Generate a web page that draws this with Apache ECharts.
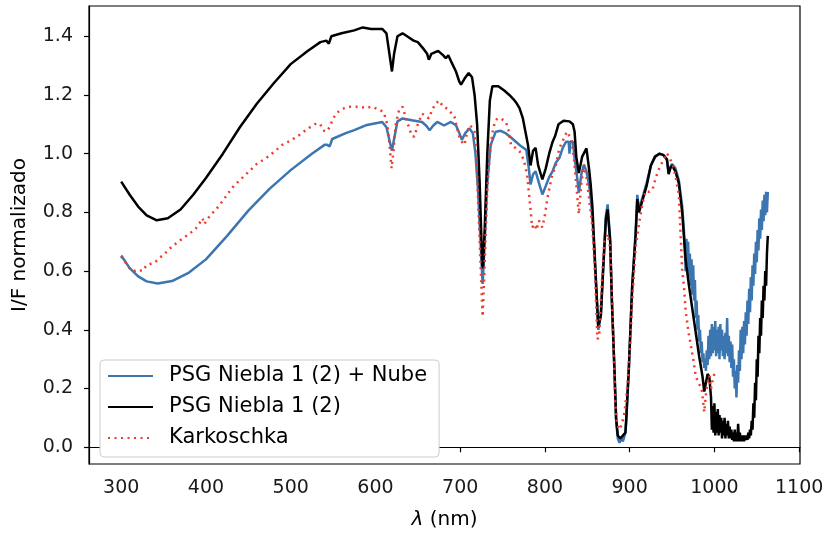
<!DOCTYPE html>
<html>
<head>
<meta charset="utf-8">
<script src="https://cdn.jsdelivr.net/npm/echarts@6/dist/echarts.min.js"></script>
<style>
  html, body { margin: 0; padding: 0; background: #fff; }
  #chart { width: 828px; height: 535px; }
</style>
</head>
<body>
<div id="chart"></div>
<script>
// tick labels
var xTicks = [300, 400, 500, 600, 700, 800, 900, 1000, 1100];
var yTicks = [0, 0.2, 0.4, 0.6, 0.8, 1.0, 1.2, 1.4];

var names = ["PSG Niebla 1 (2) + Nube", "PSG Niebla 1 (2)", "Karkoschka"];

// PSG Niebla 1 (2) + Nube  [nm, I/F]
var nubePts = [
  [300,0.653],[310,0.61],[320,0.582],[330,0.565],[343,0.558],[360,0.566],[380,0.595],[400,0.64],
  [425,0.72],[450,0.806],[475,0.88],[500,0.944],[525,1.0],[540,1.03],[543,1.03],[546,1.025],
  [549,1.05],[565,1.07],[575,1.08],[590,1.098],[608,1.108],[613,1.09],[617,1.04],[619.5,1.01],
  [622,1.05],[626,1.11],[632,1.12],[643,1.114],[655,1.108],[660,1.095],[664,1.08],[668,1.095],
  [673,1.108],[681,1.096],[689,1.108],[695,1.097],[699,1.07],[702,1.047],[706,1.07],[711,1.086],
  [715,1.069],[718,1.0],[721,0.88],[724,0.7],[726.5,0.556],[729,0.7],[732,0.9],[736,1.03],
  [742,1.075],[748,1.078],[754,1.069],[760,1.055],[766,1.04],[772,1.025],[778,1.013],[781,0.95],
  [783,0.895],[786,0.93],[789,0.94],[793,0.9],[797,0.861],[801,0.89],[805,0.92],[809,0.94],
  [813,0.97],[817,0.985],[821,1.02],[825,1.041],[828,1.041],[829,1.0],[830,1.041],[833,1.041],
  [835,0.985],[838,0.92],[840,0.867],[843,0.93],[846,0.962],[849,0.94],[852,0.895],[854,0.85],
  [856,0.78],[858,0.68],[860,0.57],[863,0.40],[866,0.45],[869,0.63],[872,0.79],[874,0.827],
  [877,0.71],[879,0.5],[882,0.26],[884,0.09],[886,0.03],[888,0.015],[890,0.03],[892,0.02],
  [895,0.05],[896,0.09],[899,0.26],[903,0.55],[907,0.73],[909,0.86],[911,0.81],[913,0.81],
  [916,0.86],[920,0.9],[925,0.96],[930,0.99],[935,1.0],[940,0.995],[944,0.98],[946,0.935],
  [948,0.955],[950,0.965],[954,0.95],[958,0.91],[962,0.82],[964,0.74],
  [965,0.68],[966,0.60],[967,0.71],[968,0.62],[969,0.70],[970,0.58],[971,0.66],[972,0.55],
  [973,0.64],[974,0.52],[975,0.62],[976,0.50],[977,0.57],[978,0.44],[979,0.50],[980,0.40],
  [981,0.45],[982,0.36],[983,0.40],[984,0.32],[985,0.36],[986,0.29],[987,0.32],[988,0.27],
  [989,0.30],[990,0.26],[991,0.33],[992,0.28],[993,0.38],[994,0.30],[995,0.40],[996,0.31],
  [997,0.42],[998,0.32],[999,0.41],[1000,0.33],[1001,0.43],[1002,0.31],[1003,0.40],[1004,0.32],
  [1005,0.41],[1006,0.30],[1007,0.42],[1008,0.33],[1009,0.40],[1010,0.31],[1011,0.38],[1012,0.30],
  [1013,0.39],[1014,0.32],[1015,0.44],[1016,0.31],[1017,0.38],[1018,0.29],[1019,0.36],[1020,0.27],
  [1021,0.35],[1022,0.24],[1023,0.30],[1024,0.20],[1025,0.26],[1026,0.17],[1027,0.28],[1028,0.22],
  [1029,0.33],[1030,0.26],[1031,0.40],[1032,0.30],[1033,0.41],[1034,0.32],[1035,0.43],[1036,0.35],
  [1037,0.46],[1038,0.38],[1039,0.50],[1040,0.42],[1041,0.54],[1042,0.46],[1043,0.58],[1044,0.50],
  [1045,0.62],[1046,0.55],[1047,0.66],[1048,0.59],[1049,0.70],[1050,0.63],[1051,0.74],[1052,0.67],
  [1053,0.78],[1054,0.71],[1055,0.81],[1056,0.74],[1057,0.84],[1058,0.77],[1059,0.86],[1060,0.79],
  [1061,0.87],[1062,0.80],[1063,0.87]
];

// PSG Niebla 1 (2)  [nm, I/F]
var nieblaPts = [
  [300,0.905],[310,0.86],[320,0.82],[330,0.79],[342,0.773],[355,0.78],[370,0.81],[385,0.86],
  [400,0.917],[420,1.0],[440,1.09],[460,1.17],[480,1.24],[500,1.305],[520,1.35],[535,1.38],
  [542,1.385],[545,1.375],[548,1.40],[560,1.41],[575,1.42],[585,1.43],[595,1.425],[608,1.425],
  [613,1.41],[617,1.33],[619.5,1.28],[622,1.34],[626,1.40],[632,1.41],[640,1.395],[645,1.385],
  [650,1.38],[657,1.356],[661,1.34],[663,1.32],[666,1.34],[674,1.35],[680,1.335],[683,1.325],
  [686,1.335],[690,1.31],[695,1.28],[699,1.245],[701,1.235],[705,1.255],[710,1.275],[714,1.26],
  [717,1.2],[720,1.1],[723,0.9],[726,0.62],[727,0.61],[729,0.75],[732,1.0],[735,1.18],
  [738,1.23],[745,1.23],[752,1.215],[758,1.2],[763,1.185],[767,1.17],[770,1.155],[774,1.12],
  [777,1.075],[780,1.03],[783,0.96],[786,1.01],[789,1.02],[792,0.96],[797,0.912],[801,0.95],
  [805,1.0],[809,1.04],[812,1.06],[816,1.1],[822,1.112],[829,1.11],[833,1.1],[835,1.075],
  [837,0.99],[840,0.934],[844,0.99],[849,1.018],[852,0.95],[854,0.895],[856,0.82],[858,0.70],
  [860,0.58],[863,0.41],[866,0.45],[869,0.62],[872,0.78],[874,0.81],[877,0.70],[879,0.5],
  [882,0.27],[884,0.1],[886,0.04],[889,0.03],[892,0.04],[895,0.05],[896,0.1],[899,0.27],
  [903,0.55],[907,0.72],[909,0.845],[911,0.8],[913,0.8],[916,0.85],[920,0.89],[925,0.96],
  [930,0.99],[935,1.0],[940,0.995],[944,0.98],[946,0.93],[948,0.95],[950,0.96],[954,0.94],
  [958,0.9],[962,0.8],[964,0.72],[966,0.64],[970,0.55],[974,0.47],[978,0.39],[982,0.31],
  [986,0.24],[988,0.19],[990,0.22],[992,0.25],[994,0.24],[996,0.17],
  [997,0.06],[998,0.14],[999,0.05],[1000,0.15],[1001,0.04],[1002,0.12],[1003,0.05],[1004,0.13],
  [1005,0.04],[1006,0.11],[1007,0.05],[1008,0.10],[1009,0.03],[1010,0.09],[1011,0.04],[1012,0.10],
  [1013,0.03],[1014,0.08],[1015,0.04],[1016,0.09],[1017,0.03],[1018,0.07],[1019,0.03],[1020,0.06],
  [1021,0.025],[1022,0.05],[1023,0.02],[1024,0.06],[1025,0.02],[1026,0.05],[1027,0.02],[1028,0.08],
  [1029,0.02],[1030,0.05],[1031,0.02],[1032,0.04],[1033,0.02],[1034,0.04],[1035,0.02],[1036,0.04],
  [1037,0.025],[1038,0.04],[1039,0.025],[1040,0.05],[1041,0.03],[1042,0.06],[1043,0.04],[1044,0.09],
  [1045,0.06],[1046,0.15],[1047,0.10],[1048,0.22],[1049,0.16],[1050,0.30],[1051,0.24],[1052,0.38],
  [1053,0.32],[1054,0.44],[1055,0.38],[1056,0.50],[1057,0.44],[1058,0.55],[1059,0.50],[1060,0.60],
  [1061,0.55],[1062,0.66],[1063,0.72]
];

// Karkoschka  [nm, I/F]
var karkPts = [
  [300,0.65],[305,0.63],[310,0.61],[315,0.60],[320,0.605],[325,0.60],[330,0.62],[335,0.625],
  [340,0.63],[345,0.645],[350,0.655],[357,0.676],[365,0.695],[372,0.71],[380,0.726],[388,0.745],
  [394,0.77],[396,0.78],[398,0.76],[405,0.79],[412,0.81],[420,0.84],[431,0.884],[440,0.91],
  [451,0.94],[460,0.965],[471,0.985],[480,1.005],[490,1.03],[500,1.045],[510,1.063],[520,1.085],
  [530,1.103],[535,1.10],[538,1.08],[542,1.075],[546,1.09],[550,1.12],[555,1.14],[561,1.153],
  [570,1.16],[581,1.16],[590,1.155],[595,1.16],[600,1.155],[605,1.15],[610,1.14],[614,1.10],
  [617,1.02],[619,0.95],[621,1.0],[624,1.1],[628,1.15],[632,1.16],[636,1.12],[640,1.086],
  [643,1.06],[646,1.058],[650,1.1],[655,1.136],[659,1.13],[663,1.12],[667,1.15],[671,1.17],
  [675,1.181],[680,1.16],[685,1.153],[689,1.14],[693,1.131],[696,1.09],[699,1.058],[702,1.04],
  [705,1.03],[708,1.07],[711,1.097],[714,1.09],[717,1.075],[719,1.0],[721,0.85],[723,0.7],
  [725,0.55],[726.5,0.445],[728,0.55],[730,0.72],[732,0.88],[735,1.0],[738,1.07],[741,1.11],
  [744,1.12],[748,1.12],[754,1.108],[757,1.08],[760,1.03],[765,1.02],[770,1.008],[775,0.98],
  [779,0.928],[782,0.84],[785,0.749],[788,0.76],[790,0.74],[793,0.772],[795,0.76],[797,0.749],
  [800,0.79],[803,0.85],[808,0.92],[813,0.962],[817,1.018],[822,1.05],[826,1.075],[829,1.06],
  [831,1.052],[833,1.01],[835,0.962],[838,0.86],[840,0.794],[843,0.9],[846,0.962],[849,0.92],
  [852,0.85],[856,0.75],[859,0.6],[862,0.368],[864,0.38],[867,0.55],[870,0.7],[874,0.726],
  [877,0.68],[880,0.45],[883,0.15],[885,0.08],[888,0.06],[891,0.08],[894,0.12],[897,0.2],
  [900,0.32],[903,0.5],[907,0.68],[911,0.76],[915,0.83],[919,0.873],[923,0.87],[927,0.878],
  [931,0.92],[935,0.951],[940,0.98],[944,1.002],[948,0.98],[952,0.951],[955,0.91],[958,0.861],
  [962,0.6],[964,0.55],[966,0.468],[969,0.4],[972,0.35],[975,0.3],[978,0.243],[981,0.22],
  [985,0.2],[988,0.12],[990,0.18],[992,0.22],[994,0.243],[996,0.2],[998,0.23],[1000,0.25]
];

var chart = echarts.init(document.getElementById("chart"));

var font = "DejaVu Sans";
var option = {
  animation: false,
  grid: {
    left: 89,
    right: 28,
    top: 6,
    bottom: 66,
    show: true,
    borderColor: "#000",
    borderWidth: 1.2
  },
  legend: {
    orient: "vertical",
    left: 100,
    top: 360,
    backgroundColor: "#fff",
    borderColor: "#cccccc",
    borderWidth: 1,
    borderRadius: 4,
    padding: [4, 12, 7, 7],
    itemWidth: 45,
    itemHeight: 14,
    itemGap: 7,
    data: names,
    // only the line sample, no marker
    itemStyle: { color: "rgba(0,0,0,0)", borderColor: "rgba(0,0,0,0)", borderWidth: 0, opacity: 0 },
    textStyle: {
      fontFamily: font,
      fontSize: 21,
      lineHeight: 24,
      color: "#000",
      padding: [0, 0, 0, 11]
    }
  },
  xAxis: {
    type: "value",
    min: 262,
    max: 1101,
    name: "{i|λ} (nm)",
    nameLocation: "middle",
    nameGap: 46,
    nameTextStyle: {
      fontFamily: font,
      fontSize: 20,
      color: "#000",
      rich: { i: { fontFamily: font, fontSize: 20, fontStyle: "italic", color: "#000" } }
    },
    axisLine: { lineStyle: { color: "#000", width: 1.2 } },
    axisTick: { customValues: xTicks, length: 5, lineStyle: { color: "#000", width: 1.2 } },
    axisLabel: {
      customValues: xTicks,
      margin: 15,
      fontFamily: font,
      fontSize: 19,
      color: "#1a1a1a",
      formatter: function (v) { return String(v); }
    },
    splitLine: { show: false }
  },
  yAxis: {
    type: "value",
    min: -0.057,
    max: 1.503,
    name: "I/F normalizado",
    nameLocation: "middle",
    nameGap: 59,
    nameTextStyle: { fontFamily: font, fontSize: 20, color: "#000" },
    axisLine: { lineStyle: { color: "#000", width: 1.2 } },
    axisTick: { customValues: yTicks, length: 5, lineStyle: { color: "#000", width: 1.2 } },
    axisLabel: {
      customValues: yTicks,
      margin: 16,
      fontFamily: font,
      fontSize: 19,
      color: "#1a1a1a",
      formatter: function (v) { return v.toFixed(1); }
    },
    splitLine: { show: false }
  },
  series: [
    {
      name: names[0],
      type: "line",
      symbol: "none",
      data: nubePts,
      lineStyle: { color: "#3b76b0", width: 2.5 },
      itemStyle: { color: "#3b76b0" },
      z: 2
    },
    {
      name: names[1],
      type: "line",
      symbol: "none",
      data: nieblaPts,
      lineStyle: { color: "#000", width: 2.5 },
      itemStyle: { color: "#000" },
      z: 3
    },
    {
      name: names[2],
      type: "line",
      symbol: "none",
      data: karkPts,
      lineStyle: { color: "#ef3a2d", width: 2.5, type: [2, 4.5] },
      itemStyle: { color: "#ef3a2d" },
      z: 4
    }
  ]
};
chart.setOption(option);
</script>
</body>
</html>
